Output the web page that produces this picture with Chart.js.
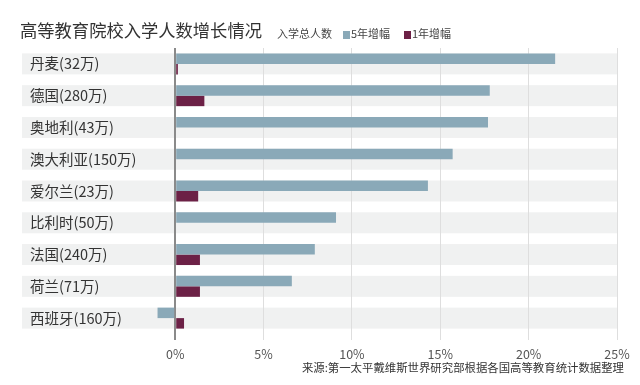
<!DOCTYPE html>
<html>
<head>
<meta charset="utf-8">
<script src="https://cdn.jsdelivr.net/npm/chart.js@4"></script>
<style>
  html, body { margin: 0; padding: 0; background: #fff; }
  body { width: 640px; height: 385px; position: relative; overflow: hidden;
         font-family: "Noto Sans CJK SC", "Noto Sans", sans-serif; color: #333; }
  #wrap { position: absolute; left: 0; top: 0; width: 640px; height: 385px; }
  .title { position: absolute; left: 20px; top: 16px; font-size: 17.3px; line-height: 28px; color: #333; white-space: nowrap; }
  .legend { position: absolute; top: 25px; font-size: 11px; line-height: 16px; color: #444; white-space: nowrap; }
  .sw { display: inline-block; width: 7px; height: 8px; margin-right: 1px; vertical-align: -1px; }
  .source { position: absolute; right: 16px; top: 359px; font-size: 11.4px; line-height: 16px; color: #333; white-space: nowrap; }
</style>
</head>
<body>
<div id="wrap"><canvas id="growthChart" width="640" height="385"></canvas></div>
<div class="title">高等教育院校入学人数增长情况</div>
<div class="legend" style="left:277px">入学总人数</div>
<div class="legend" style="left:343px"><span class="sw" style="background:#8aa9b8"></span>5年增幅</div>
<div class="legend" style="left:404px"><span class="sw" style="background:#6c2146"></span>1年增幅</div>
<div class="source">来源:第一太平戴维斯世界研究部根据各国高等教育统计数据整理</div>

<script>
// data (percent)
const countries = ['丹麦(32万)', '德国(280万)', '奥地利(43万)', '澳大利亚(150万)', '爱尔兰(23万)',
                   '比利时(50万)', '法国(240万)', '荷兰(71万)', '西班牙(160万)'];
const growth5y = [21.5, 17.8, 17.7, 15.7, 14.3, 9.1, 7.9, 6.6, -1.0];
const growth1y = [0.15, 1.65, 0, 0, 1.3, 0, 1.4, 1.4, 0.5];
const xTicks = [0, 5, 10, 15, 20, 25];

// grey row bands behind each country, running under the labels too
const rowBands = {
  id: 'rowBands',
  beforeDraw(chart) {
    const ctx = chart.ctx;
    const y = chart.scales.y;
    const area = chart.chartArea;
    const step = (y.getPixelForValue(1) - y.getPixelForValue(0));
    const h = step * 0.66;
    ctx.save();
    countries.forEach((c, i) => {
      const cy = y.getPixelForValue(i);
      ctx.fillStyle = '#f0f1f1';
      ctx.fillRect(22, cy - h / 2, area.right - 22, h);
    });
    ctx.restore();
  }
};

new Chart(document.getElementById('growthChart'), {
  type: 'bar',
  data: {
    labels: countries,
    datasets: [
      { label: '5年增幅', data: growth5y, backgroundColor: '#8aa9b8',
        categoryPercentage: 0.66, barPercentage: 1 },
      { label: '1年增幅', data: growth1y, backgroundColor: '#6c2146',
        categoryPercentage: 0.66, barPercentage: 1 }
    ]
  },
  options: {
    indexAxis: 'y',
    responsive: false,
    animation: false,
    layout: { padding: { left: 30, right: 23, top: 48, bottom: 16 } },
    plugins: { legend: { display: false }, tooltip: { enabled: false } },
    scales: {
      x: {
        min: -1.2,
        max: 25,
        afterBuildTicks: (scale) => {
          scale.ticks = xTicks.map(v => ({ value: v }));
        },
        border: { display: false },
        grid: {
          color: (c) => (c.tick && c.tick.value === 0) ? '#8a8a8a' : '#dedede',
          lineWidth: (c) => (c.tick && c.tick.value === 0) ? 2 : 1,
          tickLength: 6
        },
        ticks: {
          padding: 7,
          color: '#555',
          font: { family: '"Noto Sans CJK SC", "Noto Sans", sans-serif', size: 12.5 },
          callback: (v) => v + '%'
        }
      },
      y: {
        afterFit: (scale) => { scale.width = 124; },
        grid: { display: false },
        border: { display: false },
        ticks: {
          crossAlign: 'far',
          color: '#333',
          font: { family: '"Noto Sans CJK SC", "Noto Sans", sans-serif', size: 14.5 }
        }
      }
    }
  },
  plugins: [rowBands]
});
</script>
</body>
</html>
